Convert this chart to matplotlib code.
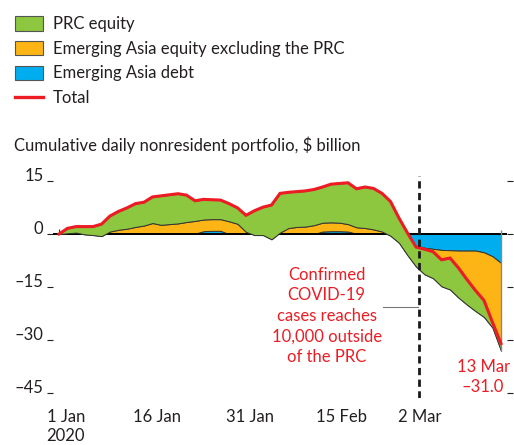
import matplotlib
matplotlib.use("Agg")
from matplotlib import pyplot as plt
from matplotlib.patches import Patch
from matplotlib.lines import Line2D
import numpy as np

plt.rcParams['font.family'] = ['Lato', 'DejaVu Sans']

# cumulative flows, $ billion, one value per trading day (2 Jan .. 13 Mar 2020)
debt = [0, 0, 0, 0, 0, 0, 0, 0, 0, 0, 0, 0, 0, 0, 0, 0, 0.1, 0.8, 0.9, 0.9,
        0, 0, 0, 0, 0, 0, 0, 0, 0, 0, 0, 0.7, 0.8, 0.8, 0.7, 0.1, 0, 0, 0, 0,
        -0.5, -1.5, -3.4, -3.9, -4.2, -4.5, -4.6, -4.7, -4.7, -4.7, -5.2, -6.3, -8.2]
asia_eq = [0, 0.2, 0.4, -0.1, -0.3, -0.6, 0.7, 1.2, 1.5, 2.0, 2.4, 3.1, 2.6, 2.8, 3.0, 3.4,
           3.6, 3.3, 3.3, 3.3, 3.6, 2.9, 0.6, -0.3, -0.3, -1.5, 0.4, 1.7, 2.0, 2.1, 2.5,
           2.5, 2.5, 2.4, 2.1, 1.8, 1.7, 1.3, 0.7, -0.5, -2.0, -4.5, -5.8, -7.5, -8.3,
           -10.3, -11.1, -13.3, -15.3, -17.1, -18.3, -20.2, -24.8]
prc_eq = [0, 1.4, 1.7, 2.2, 2.4, 3.4, 4.4, 5.2, 5.9, 6.6, 6.6, 7.4, 8.2, 8.3, 8.4, 7.6,
          5.7, 5.7, 5.5, 5.4, 5.0, 4.5, 4.7, 6.9, 7.9, 9.7, 11.1, 10.1, 10.0, 10.1, 10.1,
          10.1, 10.8, 11.1, 11.7, 10.9, 11.6, 11.6, 10.8, 9.7, 7.0, 6.3, 5.5, 7.1, 7.5,
          7.5, 8.9, 8.4, 7.1, 5.8, 4.7, 1.5, 2.0]

tick_pos = [0.8, 11.5, 22.5, 33.2, 42.4]
tick_labels = ['1 Jan\n2020', '16 Jan', '31 Jan', '15 Feb', '2 Mar']
event_pos = 42.4
y_ticks = [15, 0, -15, -30, -45]

GREEN = '#8DC63F'
ORANGE = '#FDB515'
BLUE = '#00AEEF'
RED = '#ED1C24'
INK = '#231F20'
FS = 12

x = np.arange(len(debt))
l1 = np.array(debt)
l2 = l1 + np.array(asia_eq)
total = l2 + np.array(prc_eq)

fig = plt.figure(figsize=(5.14, 4.45), dpi=100)
ax = fig.add_axes([53 / 514, 1 - 398.3 / 445, (507 - 53) / 514, (398.3 - 175.7) / 445])

ax.fill_between(x, 0, l1, color=BLUE, ec='#333333', lw=0.7, zorder=2)
ax.fill_between(x, l1, l2, color=ORANGE, ec='#333333', lw=0.7, zorder=3)
ax.axhline(0, color='black', lw=1.4, zorder=4)
ax.fill_between(x, l2, total, color=GREEN, ec='#333333', lw=0.7, zorder=5)
ax.vlines(x[-1], l2[-1], 1.0, color='#888888', lw=1, zorder=6)
ax.vlines(x[0], 0, 1.3, color='#333333', lw=0.8, zorder=6)
ax.plot(x, total, color=RED, lw=2.2, zorder=7, solid_joinstyle='miter')
ax.axvline(event_pos, color='#1a1a1a', lw=2.0, dashes=(2.6, 1.6), zorder=8)

ax.set_xlim(-0.706, 52.706)
ax.set_ylim(-46.5, 16.5)
for s in ax.spines.values():
    s.set_visible(False)
ax.set_xticks(tick_pos)
ax.set_xticklabels(tick_labels, fontsize=FS, color=INK, linespacing=1.2)
ax.tick_params(axis='x', length=0, pad=8)
ax.set_yticks(y_ticks)
ax.set_yticklabels([f'{v}'.replace('-', '\u2013') for v in y_ticks], fontsize=FS, color=INK)
ax.tick_params(axis='y', direction='out', length=4.3, width=0.8, color=INK,
               left=True, right=True, labelleft=True, labelright=False, pad=2.5)
for lab in ax.get_yticklabels():
    lab.set_va('baseline')

ax.text(31.5, -9.2, 'Confirmed\nCOVID-19\ncases reaches\n10,000 outside\nof the PRC',
        color=RED, fontsize=FS, ha='center', va='top', linespacing=1.35)
ax.plot([38.1, 42.2], [-20.8, -20.8], color='#777777', lw=0.8, zorder=6)
ax.text(49.9, -35.3, '13 Mar\n\u201331.0', color=RED, fontsize=FS, ha='center', va='top',
        linespacing=1.35)

fig.text(14 / 514, 1 - 145 / 445, 'Cumulative daily nonresident portfolio, $ billion',
         fontsize=FS, color=INK, va='center', ha='left')

handles = [Patch(facecolor=GREEN, edgecolor='#555555', lw=0.8),
           Patch(facecolor=ORANGE, edgecolor='#555555', lw=0.8),
           Patch(facecolor=BLUE, edgecolor='#555555', lw=0.8),
           Line2D([], [], color=RED, lw=2.4)]
fig.legend(handles, ['PRC equity', 'Emerging Asia equity excluding the PRC',
                     'Emerging Asia debt', 'Total'],
           loc='upper left', bbox_to_anchor=(8 / 514, 1 - 9.5 / 445), frameon=False,
           fontsize=FS, labelcolor=INK, handlelength=1.7, handleheight=0.95,
           labelspacing=0.52, handletextpad=0.6, borderaxespad=0)

fig.savefig('out.png', dpi=100)
